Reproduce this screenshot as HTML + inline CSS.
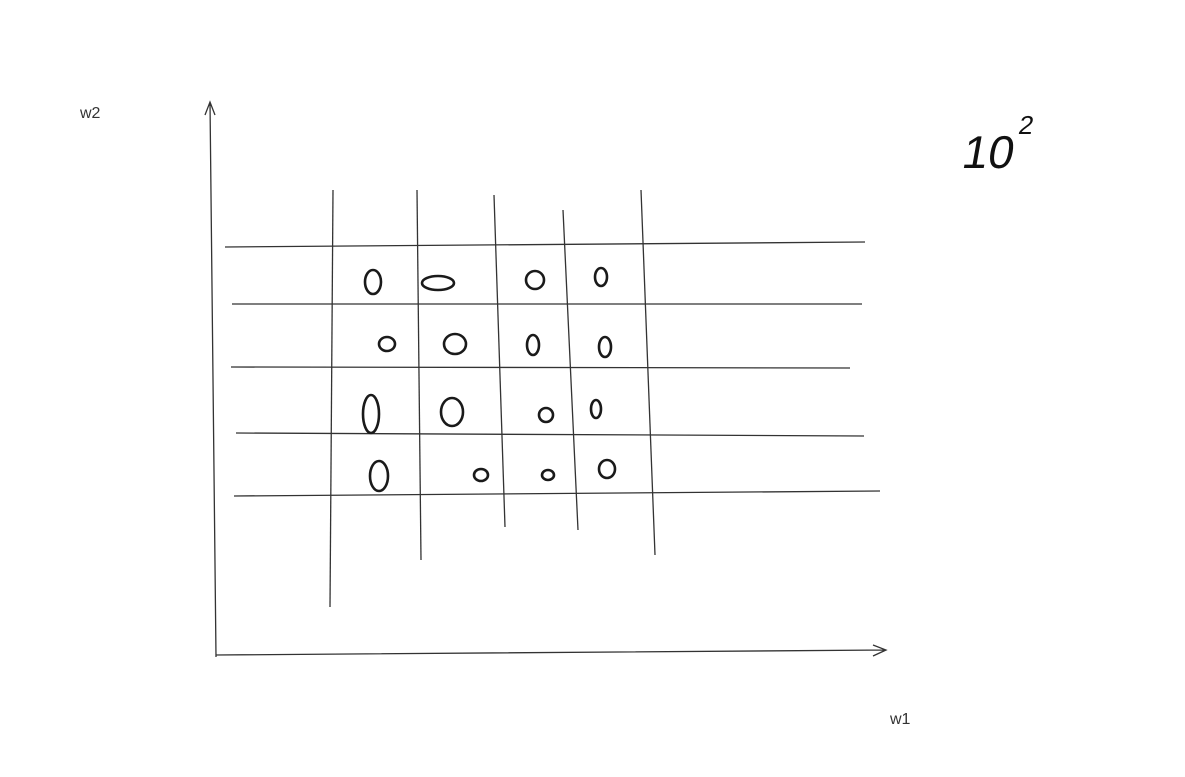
<!DOCTYPE html>
<html><head><meta charset="utf-8"><style>
html,body{margin:0;padding:0;background:#fff;width:1185px;height:777px;overflow:hidden}
svg{display:block}
</style></head><body>
<svg id="c" width="1185" height="777">
  <text x="80" y="118" font-family="Liberation Sans, sans-serif" font-size="16" fill="#333">w2</text>
  <text x="890" y="724" font-family="Liberation Sans, sans-serif" font-size="16" fill="#333">w1</text>
  <text x="962" y="168" font-family="Liberation Sans, sans-serif" font-size="46" font-weight="300" fill="#111" transform="skewX(-10) translate(28,0)">10<tspan dy="-34" font-size="26">2</tspan></text>
  <g id="axes" stroke="#333" stroke-width="1.3" fill="none">
    <path d="M216 657 L210 102 M205 115 L210 102 L215 115"/>
    <path d="M216 655 L886 650 M873 645 L886 650 L873 656"/>
  </g>
  <g id="grid" stroke="#333" stroke-width="1.3"></g>
  <g id="marks" stroke="#1a1a1a" stroke-width="2.6" fill="none"></g>
</svg>
<script>
// grid lines (hand-drawn endpoints)
const vLines = [[333,190,330,607],[417,190,421,560],[494,195,505,527],[563,210,578,530],[641,190,655,555]];
const hLines = [[225,247,865,242],[232,304,862,304],[231,367,850,368],[236,433,864,436],[234,496,880,491]];
// marks: center x, center y, horizontal radius, vertical radius
const markX = [373,438,535,601, 387,455,533,605, 371,452,546,596, 379,481,548,607];
const markY = [282,283,280,277, 344,344,345,347, 414,412,415,409, 476,475,475,469];
const markRx = [8,16,9,6, 8,11,6,6, 8,11,7,5, 9,7,6,8];
const markRy = [12,7,9,9, 7,10,10,10, 19,14,7,9, 15,6,5,9];
const NS='http://www.w3.org/2000/svg';
const g=document.getElementById('grid');
vLines.forEach((l,i)=>{const e=document.createElementNS(NS,'line');
e.setAttribute('x1',l[0]);e.setAttribute('y1',l[1]);e.setAttribute('x2',l[2]);e.setAttribute('y2',l[3]);


g.appendChild(e);});
hLines.forEach((l,i)=>{const e=document.createElementNS(NS,'line');
e.setAttribute('x1',l[0]);e.setAttribute('y1',l[1]);e.setAttribute('x2',l[2]);e.setAttribute('y2',l[3]);


g.appendChild(e);});
const m=document.getElementById('marks');
markX.forEach((x,i)=>{const e=document.createElementNS(NS,'ellipse');
e.setAttribute('cx',x);e.setAttribute('cy',markY[i]);e.setAttribute('rx',markRx[i]);e.setAttribute('ry',markRy[i]);


m.appendChild(e);});
</script>
</body></html>
